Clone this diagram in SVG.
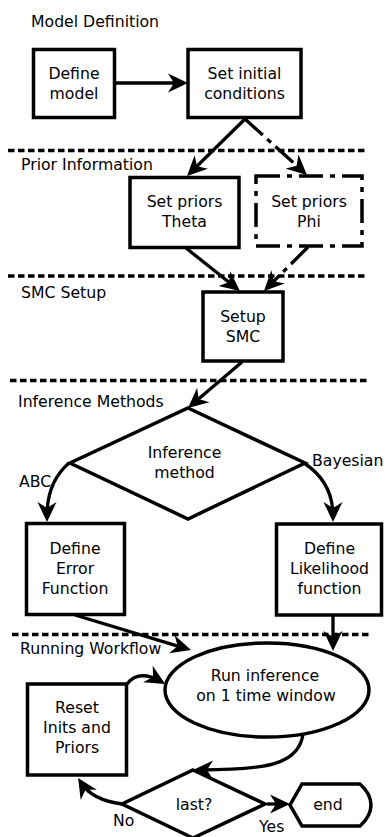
<svg xmlns="http://www.w3.org/2000/svg" width="387" height="837" viewBox="0 0 387 837">
<style>
text{font-family:"DejaVu Sans","Liberation Sans",sans-serif;font-size:15.7px;fill:#000}
.c{text-anchor:middle}
.node{fill:#fff;stroke:#000;stroke-width:3.5}
.dd{stroke-dasharray:24,7,5,7}
.sep{stroke:#000;stroke-width:3.5;stroke-dasharray:6.5,3.5;fill:none}
.edge{fill:none;stroke:#000;stroke-width:3.3;marker-end:url(#ah)}
.edd{stroke-dasharray:24,6,5,6}
</style>
<defs>
<marker id="ah" markerUnits="userSpaceOnUse" markerWidth="20" markerHeight="20" viewBox="0 0 20 20" refX="14" refY="10" orient="auto">
<path d="M0,0.5 L20,10 L0,19.5 L6,10 Z" fill="#000"/>
</marker>
</defs>
<rect width="387" height="837" fill="#fff"/>
<g id="sections">
<line class="sep" x1="8" y1="150.5" x2="368" y2="150.5"/>
<line class="sep" x1="8" y1="276" x2="368" y2="276"/>
<line class="sep" x1="10" y1="380.5" x2="370" y2="380.5"/>
<line class="sep" x1="12" y1="634.5" x2="372" y2="634.5"/>
<text x="31" y="27">Model Definition</text>
<text x="21" y="169.5">Prior Information</text>
<text x="21" y="298">SMC Setup</text>
<text x="18" y="407">Inference Methods</text>
<text x="20" y="654">Running Workflow</text>
</g>
<g id="connectors">
<path class="edge" d="M115,83 L182,83"/>
<path class="edge" d="M245,119 L191.3,171.8"/>
<path class="edge edd" d="M245,119 L302.5,171"/>
<path class="edge" d="M186,248 L235.3,287.3"/>
<path class="edge edd" d="M308,247 L268.2,286.8"/>
<path class="edge" d="M242,362 L192.6,404.1"/>
<path class="edge" d="M69,463 Q47,482 47,516"/>
<path class="edge" d="M304,463 Q333,482 333,516"/>
<path class="edge" d="M75,615 L185.3,648.3"/>
<path class="edge" d="M333,616 L333,645"/>
<path class="edge" d="M303,734 C299,765 265,770 199,770"/>
<path class="edge" d="M122,804 Q92,800 81.3,783"/>
<path class="edge" d="M127,684 C135,673 148,674 160,681"/>
<path class="edge" d="M267,804 L284,804"/>
<text x="19" y="487">ABC</text>
<text x="312" y="466">Bayesian</text>
<text x="113" y="826">No</text>
<text x="259" y="832">Yes</text>
</g>
<g id="define_model">
<rect class="node" x="33.5" y="49.5" width="81" height="68"/>
<text class="c" x="74" y="79">Define</text>
<text class="c" x="74" y="99">model</text>
</g>
<g id="set_initial">
<rect class="node" x="188" y="49.5" width="113" height="68"/>
<text class="c" x="244.5" y="79">Set initial</text>
<text class="c" x="244.5" y="99">conditions</text>
</g>
<g id="priors_theta">
<rect class="node" x="130" y="177.5" width="109" height="70"/>
<text class="c" x="184.5" y="207">Set priors</text>
<text class="c" x="184.5" y="227">Theta</text>
</g>
<g id="priors_phi">
<rect class="node dd" x="256" y="176" width="106" height="70"/>
<text class="c" x="309" y="207">Set priors</text>
<text class="c" x="309" y="227">Phi</text>
</g>
<g id="setup_smc">
<rect class="node" x="203" y="292" width="80" height="69"/>
<text class="c" x="243" y="322">Setup</text>
<text class="c" x="243" y="342">SMC</text>
</g>
<g id="inference_method">
<polygon class="node" points="188,408 305,463 188,519 70,463"/>
<text class="c" x="184.5" y="458">Inference</text>
<text class="c" x="184.5" y="478">method</text>
</g>
<g id="error_function">
<rect class="node" x="26.5" y="523.5" width="98" height="91"/>
<text class="c" x="75" y="554">Define</text>
<text class="c" x="75" y="574">Error</text>
<text class="c" x="75" y="594">Function</text>
</g>
<g id="likelihood_function">
<rect class="node" x="276.5" y="524" width="105" height="91"/>
<text class="c" x="329.5" y="554">Define</text>
<text class="c" x="329.5" y="574">Likelihood</text>
<text class="c" x="329.5" y="594">function</text>
</g>
<g id="run_inference">
<ellipse class="node" cx="267" cy="690" rx="102" ry="47"/>
<text class="c" x="265" y="681">Run inference</text>
<text class="c" x="266" y="701">on 1 time window</text>
</g>
<g id="reset">
<rect class="node" x="27.5" y="684" width="99" height="91"/>
<text class="c" x="77" y="713">Reset</text>
<text class="c" x="77" y="733">Inits and</text>
<text class="c" x="77" y="753">Priors</text>
</g>
<g id="last">
<polygon class="node" points="193,770 265,804 193,838 122,804"/>
<text class="c" x="194" y="810">last?</text>
</g>
<g id="end">
<path class="node" d="M302,784 L360,784 Q371,794 371,805 Q371,816 360,826 L302,826 L290,805 Z"/>
<text class="c" x="328" y="810">end</text>
</g>
</svg>
